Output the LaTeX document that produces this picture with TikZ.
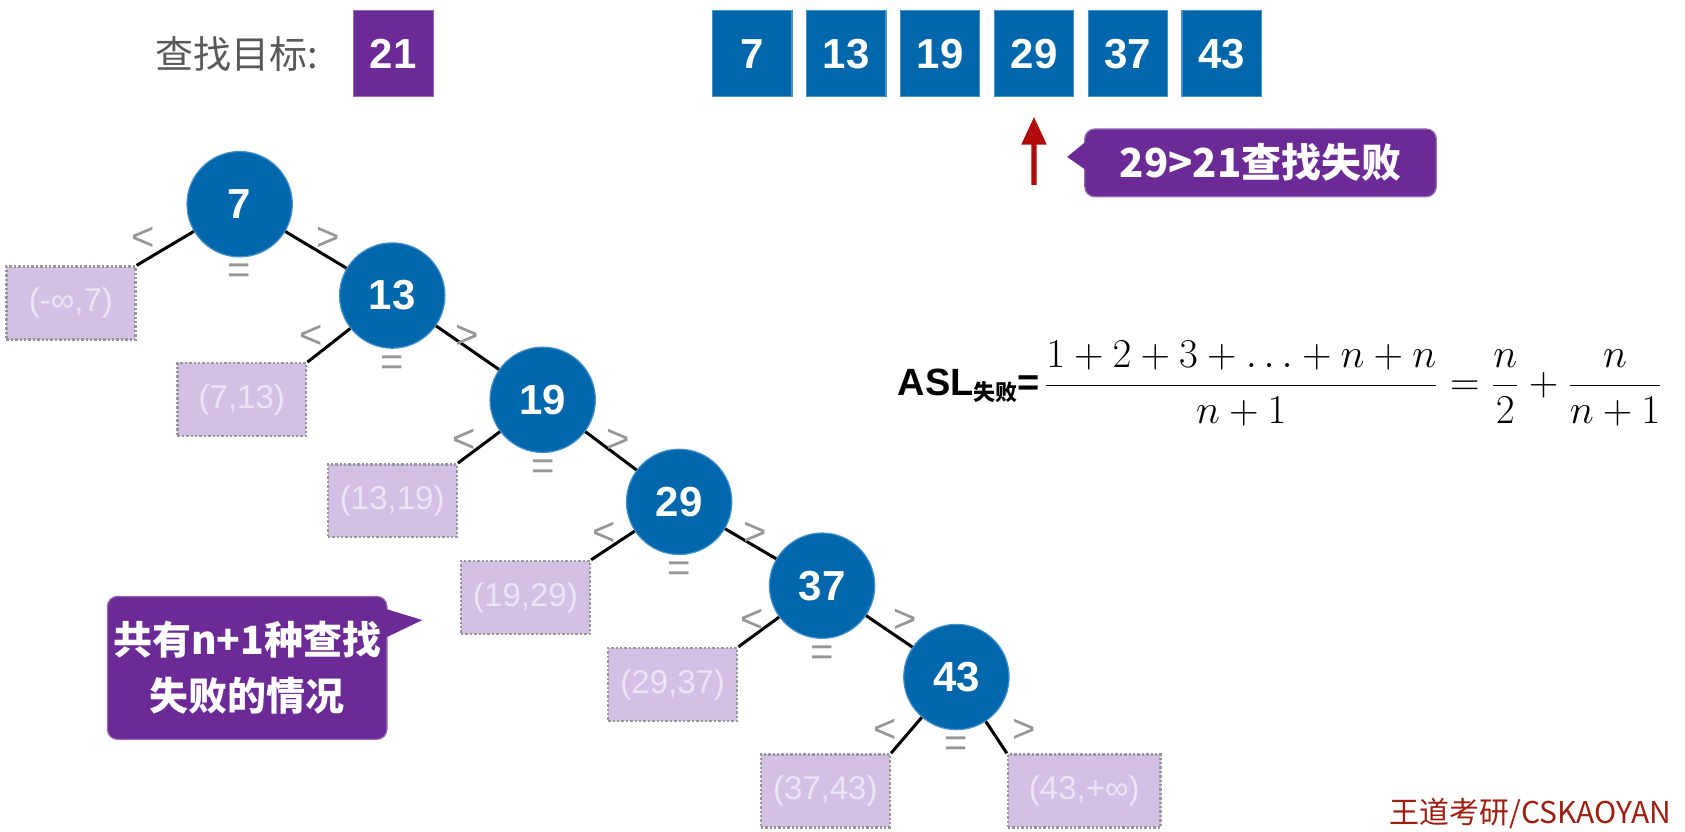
\documentclass[tikz,border=0pt]{standalone}
\usepackage{fix-cm}
\usepackage{fontspec}
\setmainfont{Liberation Sans}
\newfontfamily\cjk{Noto Sans CJK SC}
\usepackage{tikz}
\usetikzlibrary{arrows.meta}
\definecolor{treeblue}{RGB}{0,103,172}
\definecolor{edgeblue}{RGB}{70,145,205}
\definecolor{notepurple}{RGB}{107,42,150}
\definecolor{failfill}{RGB}{212,192,228}
\definecolor{failtext}{RGB}{236,228,246}
\definecolor{cmpgray}{RGB}{150,150,150}
\definecolor{arrowred}{RGB}{176,10,10}
\definecolor{markred}{RGB}{160,30,15}

\begin{document}
\begin{tikzpicture}[x=0.5375pt, y=-0.5375pt,
    key/.style={circle, fill=treeblue, draw=edgeblue, line width=0.6pt, minimum size=52.7pt, inner sep=0pt, text=white, font=\fontsize{21}{21}\selectfont\bfseries},
    cell/.style={rectangle, fill=treeblue, draw=edgeblue, line width=0.6pt, minimum width=39.8pt, minimum height=43pt, inner sep=0pt, text=white, font=\fontsize{21}{21}\selectfont\bfseries},
    gap/.style={rectangle, fill=failfill, draw=cmpgray, densely dotted, line width=1.2pt, minimum width=64.5pt, minimum height=36.5pt, inner sep=0pt, text=failtext, font=\fontsize{16.5}{16.5}\selectfont},
    cmp/.style={text=cmpgray, inner sep=0pt, font=\fontsize{20}{20}\selectfont},
    note/.style={rectangle, rounded corners=5pt, fill=notepurple, draw=notepurple!70!white, line width=0.6pt, text=white, inner sep=0pt},
    link/.style={line width=1.5pt}]
\useasboundingbox (0,0) rectangle (1568,774);

% target and sorted table
\node[text=black!65, font=\cjk\fontsize{19}{19}\selectfont] (goal) at (220,50) {查找目标:};
\node[cell, fill=notepurple, draw=notepurple!70!white] (target) at (366,50) {21};
\foreach \v [count=\i] in {7,13,19,29,37,43}
    \node[cell] (a\i) at ({700+87.4*(\i-1)},50) {\v};
\coordinate (probe) at (962.2,172);
\draw[arrowred, line width=2.7pt, -{Triangle[width=12pt,length=14pt]}, shorten >=9.7pt] (probe) -- (a4.south);
\node[note, minimum width=175.8pt, minimum height=33.9pt, font=\cjk\bfseries\fontsize{20}{20}\selectfont] (fail) at (1173,151.5) {29>21查找失败};
\coordinate (tip1) at (993,146);
\fill[notepurple] ([shift={(2,-20)}]fail.west) -- (tip1) -- ([shift={(2,7)}]fail.west) -- cycle;

% decision tree
\node[key] (k7) at (223,190) {7};
\node[key] (k13) at (365,275) {13};
\node[key] (k19) at (505,372) {19};
\node[key] (k29) at (632,467) {29};
\node[key] (k37) at (765,545) {37};
\node[key] (k43) at (890,630) {43};
\node[gap] (g1) at (66,282) {(-∞,7)};
\node[gap] (g2) at (225,372) {(7,13)};
\node[gap] (g3) at (365,466) {(13,19)};
\node[gap] (g4) at (489,556) {(19,29)};
\node[gap] (g5) at (626,637) {(29,37)};
\node[gap] (g6) at (768,736) {(37,43)};
\node[gap, minimum width=76.3pt] (g7) at (1009,736) {(43,+∞)};
\draw[link] (k7) -- (g1.north east);
\draw[link] (k7) -- (k13);
\draw[link] (k13) -- (g2.north east);
\draw[link] (k13) -- (k19);
\draw[link] (k19) -- (g3.north east);
\draw[link] (k19) -- (k29);
\draw[link] (k29) -- (g4.north east);
\draw[link] (k29) -- (k37);
\draw[link] (k37) -- (g5.north east);
\draw[link] (k37) -- (k43);
\draw[link] (k43) -- (g6.north east);
\draw[link] (k43) -- (g7.north west);
\foreach \k/\dl/\dr/\d in {k7/-90/82/32, k13/-75/70/38, k19/-73/70/38, k29/-70/71/30, k37/-65/77/33, k43/-66/63/50} {
    \node[cmp] (\k-lt) at ([shift={(\dl,\d)}]\k) {<};
    \node[cmp] (\k-gt) at ([shift={(\dr,\d)}]\k) {>};
    \node[cmp] (\k-eq) at ([shift={(0,65)}]\k) {=};
}
\node[note, minimum width=139.8pt, minimum height=71.5pt, align=center, font=\cjk\bfseries\fontsize{19.5}{28}\selectfont] (count) at (230,621.5) {共有n+1种查找\\失败的情况};
\coordinate (tip2) at (393,577);
\fill[notepurple] ([shift={(-2,-55)}]count.east) -- (tip2) -- ([shift={(-2,-28)}]count.east) -- cycle;

% formula
\node[anchor=base west, inner sep=0pt] (asl) at (835,368) {\fontsize{19}{19}\selectfont\bfseries ASL\raisebox{-2.5pt}{\cjk\fontsize{11}{11}\selectfont 失败}=\hspace{2pt}\fontsize{20.5}{20.5}\selectfont$\displaystyle\frac{1+2+3+\ldots+n+n}{n+1}=\frac{n}{2}+\frac{n}{n+1}$};

\node[anchor=base west, inner sep=0pt, text=markred, font=\cjk\fontsize{15}{15}\selectfont] (mark) at (1293,766) {王道考研/CSKAOYAN};
\end{tikzpicture}
\end{document}
